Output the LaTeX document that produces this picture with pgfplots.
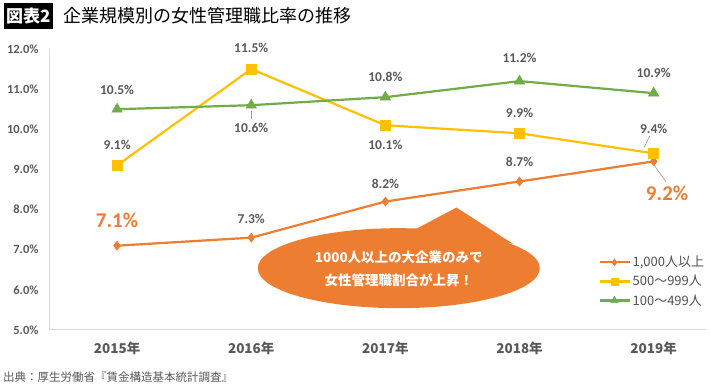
\documentclass[border=0pt]{standalone}
\usepackage{pgfplots}
\pgfplotsset{compat=1.18}
\usepackage{fontspec}
\setmainfont{Carlito}
\newfontfamily\jp{Noto Sans CJK JP}
\definecolor{cOr}{HTML}{ED7D31}
\definecolor{cYe}{HTML}{FFC000}
\definecolor{cGr}{HTML}{70AD47}
\definecolor{cTx}{HTML}{595959}
\definecolor{cAx}{HTML}{D9D9D9}
\begin{document}
\begin{tikzpicture}[x=1pt,y=1pt]
\path[use as bounding box] (-50,-55) rectangle (660,330);
\begin{axis}[
  scale only axis, width=656pt, height=281pt,
  at={(0,0)}, anchor=south west,
  xmin=-0.5, xmax=4.39, ymin=5, ymax=12,
  axis x line*=bottom, axis y line*=left,
  axis line style={cAx, line width=1pt},
  x axis line style={-}, y axis line style={-},
  xtick={0,1,2,3,4}, xticklabels={2015年,2016年,2017年,2018年,2019年},
  xticklabel style={font=\jp\bfseries\fontsize{13.5}{13.5}\selectfont, text=cTx, yshift=-8pt},
  ytick={5,6,7,8,9,10,11,12},
  yticklabel={\pgfmathprintnumber[fixed,fixed zerofill,precision=1]{\tick}\%},
  yticklabel style={font=\fontsize{12.5}{12.5}\selectfont\bfseries, text=cTx, xshift=-8pt},
  /pgf/number format/assume math mode=true,
  major tick length=0pt,
  clip=false,
  legend style={at={(1.005,0.173)}, anchor=east, draw=none, fill=none,
    font=\jp\fontsize{13}{13}\selectfont, text=cTx!90!black, row sep=3pt},
  legend cell align=left,
  legend image code/.code={\draw[mark repeat=2,mark phase=2] plot coordinates {(0pt,0pt)(15pt,0pt)(30pt,0pt)};},
]
% callout
\fill[cOr] (axis cs:2.1,6.54) ellipse [x radius=141pt, y radius=40pt];
\fill[cOr] (axis cs:2.19,7.45) -- (axis cs:2.53,8.05) -- (axis cs:2.95,7.15) -- cycle;
\node[font=\jp\bfseries\fontsize{13.5}{13.5}\selectfont, text=white, align=center, inner sep=0pt]
  at (axis cs:2.1,6.52) {1000人以上の大企業のみで\\[9pt]女性管理職割合が上昇！};

\addplot[cOr, line width=2.2pt, mark=diamond*, mark size=4.5pt, mark options={solid, line width=0.5pt},
  legend image post style={mark size=3.3pt}]
  coordinates {(0,7.1)(1,7.3)(2,8.2)(3,8.7)(4,9.2)};
\addlegendentry{1,000人以上}
\addplot[cYe, line width=2.2pt, mark=square*, mark size=5pt, mark options={solid, line width=0.5pt},
  legend image post style={mark size=3.5pt}]
  coordinates {(0,9.1)(1,11.5)(2,10.1)(3,9.9)(4,9.4)};
\addlegendentry{500～999人}
\addplot[cGr, line width=2.2pt, mark=triangle*, mark size=6pt, mark options={solid, line width=0.5pt},
  legend image post style={mark size=4.2pt}]
  coordinates {(0,10.5)(1,10.6)(2,10.8)(3,11.2)(4,10.9)};
\addlegendentry{100～499人}

% data labels
\tikzset{dl/.style={font=\fontsize{13.5}{13.5}\selectfont\bfseries, text=cTx, inner sep=0pt}}
\node[dl] at (axis cs:0,10.97) {10.5\%};
\node[dl] at (axis cs:1,10.03) {10.6\%};
\draw[cTx!60, line width=0.6pt] (axis cs:1,10.45) -- (axis cs:1,10.25);
\node[dl] at (axis cs:2,11.30) {10.8\%};
\node[dl] at (axis cs:3,11.77) {11.2\%};
\node[dl] at (axis cs:4,11.40) {10.9\%};
\node[dl] at (axis cs:0,9.60) {9.1\%};
\node[dl] at (axis cs:1,12.03) {11.5\%};
\node[dl] at (axis cs:2,9.62) {10.1\%};
\node[dl] at (axis cs:3,10.42) {9.9\%};
\node[dl] at (axis cs:4,10.02) {9.4\%};
\draw[cTx!60, line width=0.6pt] (axis cs:3.97,9.83) -- (axis cs:3.93,9.55);
\node[dl] at (axis cs:1,7.77) {7.3\%};
\node[dl] at (axis cs:2,8.65) {8.2\%};
\node[dl] at (axis cs:3,9.19) {8.7\%};
\node[font=\fontsize{21}{21}\selectfont\bfseries, text=cOr, inner sep=0pt] at (axis cs:0,7.73) {7.1\%};
\node[font=\fontsize{21}{21}\selectfont\bfseries, text=cOr, inner sep=0pt] at (axis cs:4.1,8.40) {9.2\%};
\draw[cTx!60, line width=0.6pt] (axis cs:4.0,9.12) -- (axis cs:4.09,8.7);
\end{axis}
% title
\node[fill=black, text=white, font=\jp\bfseries\fontsize{17}{17}\selectfont, inner sep=2pt, anchor=west, minimum height=26pt]
  at (-46,314) {図表2};
\node[font=\jp\fontsize{18}{18}\selectfont, anchor=west, inner sep=0pt] at (13,314) {企業規模別の女性管理職比率の推移};
\node[font=\jp\fontsize{11.5}{11.5}\selectfont, text=cTx, anchor=west, inner sep=0pt] at (-47,-47) {出典：厚生労働省『賃金構造基本統計調査』};
\end{tikzpicture}
\end{document}
